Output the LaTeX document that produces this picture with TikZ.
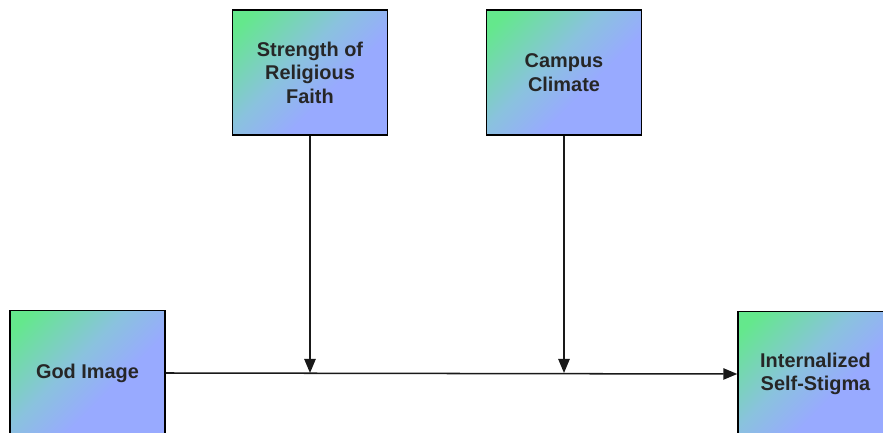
\documentclass[tikz,border=0pt]{standalone}
\usepackage{fontspec}
\setsansfont{Liberation Sans}
\usetikzlibrary{arrows.meta}
\definecolor{boxgreen}{RGB}{100,232,140}
\definecolor{boxmid}{RGB}{138,194,222}
\definecolor{boxblue}{RGB}{152,170,255}
\pgfdeclareverticalshading{boxshade}{100bp}{color(0bp)=(boxblue); color(40bp)=(boxblue); color(56bp)=(boxmid); color(80bp)=(boxgreen); color(100bp)=(boxgreen)}
\tikzset{every node/.append style={font=\sffamily\bfseries\fontsize{17}{20}\selectfont}}

\begin{document}
\begin{tikzpicture}[x=0.03cm, y=-0.03cm, >={Triangle[length=0.42cm, width=0.34cm]}]
    \useasboundingbox (0,0) rectangle (883,433);
    \clip (0,0) rectangle (883,433);
    \tikzset{varbox/.style={draw=black, line width=1.2pt, shading=boxshade, shading angle=45,
        minimum width=4.65cm, minimum height=3.75cm, align=center, text=black!85}}
    % moderators on top
    \node[varbox] (faith) at (310,72.5) {Strength of\\Religious\\Faith};
    \node[varbox] (climate) at (564,72.5) {Campus\\Climate};
    % predictor and outcome, cut by the lower edge
    \node[varbox] (god) at (87.5,373) {God Image};
    \node[varbox] (stigma) at (815.5,374) {Internalized\\Self-Stigma};
    % main path
    \draw[->, line width=1.3pt, black!90] (god.east) -- (stigma.west);
    \coordinate (m1) at (god.east -| faith.south);
    \coordinate (m2) at (god.east -| climate.south);
    \draw[->, line width=1.3pt, black!90] (faith.south) -- (m1);
    \draw[->, line width=1.3pt, black!90] (climate.south) -- (m2);
\end{tikzpicture}
\end{document}
